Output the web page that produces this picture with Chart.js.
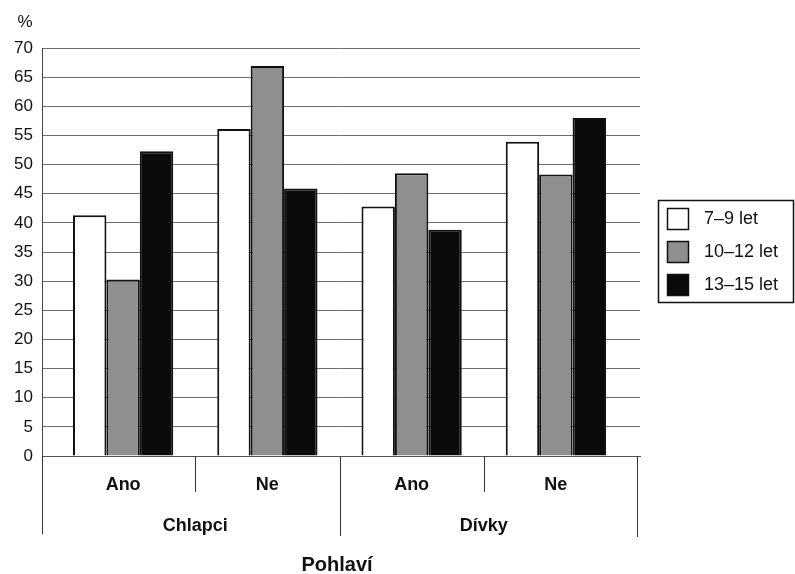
<!DOCTYPE html>
<html>
<head>
<meta charset="utf-8">
<script src="https://cdn.jsdelivr.net/npm/chart.js@4/dist/chart.umd.min.js"></script>
<style>
  html, body { margin: 0; padding: 0; background: #fff; }
  #wrap { width: 795px; height: 574px; }
</style>
</head>
<body>
<div id="wrap"><canvas id="c" width="795" height="574"></canvas></div>
<script>
// ---- data ----
const categories = ['Ano', 'Ne', 'Ano', 'Ne'];
const groups = ['Chlapci', 'Dívky'];
const seriesLabels = ['7–9 let', '10–12 let', '13–15 let'];
const age7to9 = [41.3, 56.1, 42.8, 53.9];
const age10to12 = [30.3, 66.9, 48.5, 48.3];
const age13to15 = [52.3, 45.9, 38.8, 58.0];
const yTicks = [0, 5, 10, 15, 20, 25, 30, 35, 40, 45, 50, 55, 60, 65, 70];
const yUnit = '%';
const xTitle = 'Pohlaví';

const FONT = "'Liberation Sans', Arial, Helvetica, sans-serif";
Chart.defaults.font.family = FONT;
Chart.defaults.color = '#111';

const fills = ['#ffffff', '#8f8f8f', '#0a0a0a'];

const extras = {
  id: 'extras',
  afterLayout(chart) {
    // shift category band so bars sit like the original (Excel-style inner offset)
    const x = chart.scales.x;
    const a = chart.chartArea;
    x._startPixel = a.left + 9;
    x._length = (a.right - a.left) - 21;
  },
  afterDraw(chart) {
    const ctx = chart.ctx;
    const x = chart.scales.x;
    const a = chart.chartArea;
    ctx.save();
    // % unit label
    ctx.fillStyle = '#111';
    ctx.font = '17px ' + FONT;
    ctx.textAlign = 'center';
    ctx.textBaseline = 'middle';
    ctx.fillText(yUnit, 25, 22);

    // separators below axis
    ctx.strokeStyle = '#333';
    ctx.lineWidth = 1;
    const n = categories.length;
    const px = i => x.getPixelForValue(i);
    const lines = [];
    lines.push([a.left, a.bottom, 534]);
    for (let i = 0; i < n - 1; i++) {
      const b = (px(i) + px(i + 1)) / 2;
      const groupEdge = (i % 2 === 1);
      lines.push([b, a.bottom, groupEdge ? 536 : 492]);
    }
    lines.push([a.right - 3, a.bottom, 537]);
    lines.forEach(([lx, y0, y1]) => {
      ctx.beginPath();
      ctx.moveTo(Math.round(lx) + 0.5, y0);
      ctx.lineTo(Math.round(lx) + 0.5, y1);
      ctx.stroke();
    });

    // group labels
    ctx.font = 'bold 18px ' + FONT;
    ctx.fillStyle = '#111';
    groups.forEach((g, gi) => {
      const cx = (px(gi * 2) + px(gi * 2 + 1)) / 2;
      ctx.fillText(g, cx, 526);
    });

    // axis title
    ctx.font = 'bold 20px ' + FONT;
    ctx.fillText(xTitle, (a.left + a.right) / 2 - 4, 565);

    // legend
    ctx.lineWidth = 1.5;
    ctx.strokeStyle = '#111';
    ctx.strokeRect(658.5, 200.5, 135, 102);
    ctx.font = '18px ' + FONT;
    ctx.textAlign = 'left';
    chart.data.datasets.forEach((ds, i) => {
      const top = 208 + i * 33;
      ctx.fillStyle = ds.backgroundColor;
      ctx.fillRect(667, top, 22, 22);
      ctx.lineWidth = 1.5;
      ctx.strokeStyle = '#111';
      ctx.strokeRect(667.5, top + 0.5, 21, 21);
      ctx.fillStyle = '#111';
      ctx.fillText(ds.label, 704, top + 11);
    });
    ctx.restore();
  }
};

new Chart(document.getElementById('c'), {
  type: 'bar',
  data: {
    labels: categories,
    datasets: [
      { label: seriesLabels[0], data: age7to9, backgroundColor: fills[0] },
      { label: seriesLabels[1], data: age10to12, backgroundColor: fills[1] },
      { label: seriesLabels[2], data: age13to15, backgroundColor: fills[2] }
    ]
  },
  options: {
    responsive: false,
    animation: false,
    layout: { padding: { left: 0, right: 155, top: 48, bottom: 0 } },
    datasets: {
      bar: {
        borderColor: '#111',
        borderWidth: 2,
        categoryPercentage: 0.695,
        barPercentage: 1.0
      }
    },
    plugins: {
      legend: { display: false },
      tooltip: { enabled: false }
    },
    scales: {
      x: {
        grid: { display: false, drawTicks: false },
        border: { display: true, color: '#555', width: 1 },
        ticks: { font: { size: 18, weight: 'bold' }, color: '#111', padding: 18, maxRotation: 0 },
        afterFit(s) { s.height = 118; }
      },
      y: {
        min: 0,
        max: 70,
        afterBuildTicks(s) { s.ticks = yTicks.map(v => ({ value: v })); },
        grid: { color: '#6e6e6e', lineWidth: 1, drawTicks: false },
        border: { display: true, color: '#444', width: 1 },
        ticks: { font: { size: 17 }, color: '#111', padding: 9 },
        afterFit(s) { s.width = 42; }
      }
    }
  },
  plugins: [extras]
});
</script>
</body>
</html>
